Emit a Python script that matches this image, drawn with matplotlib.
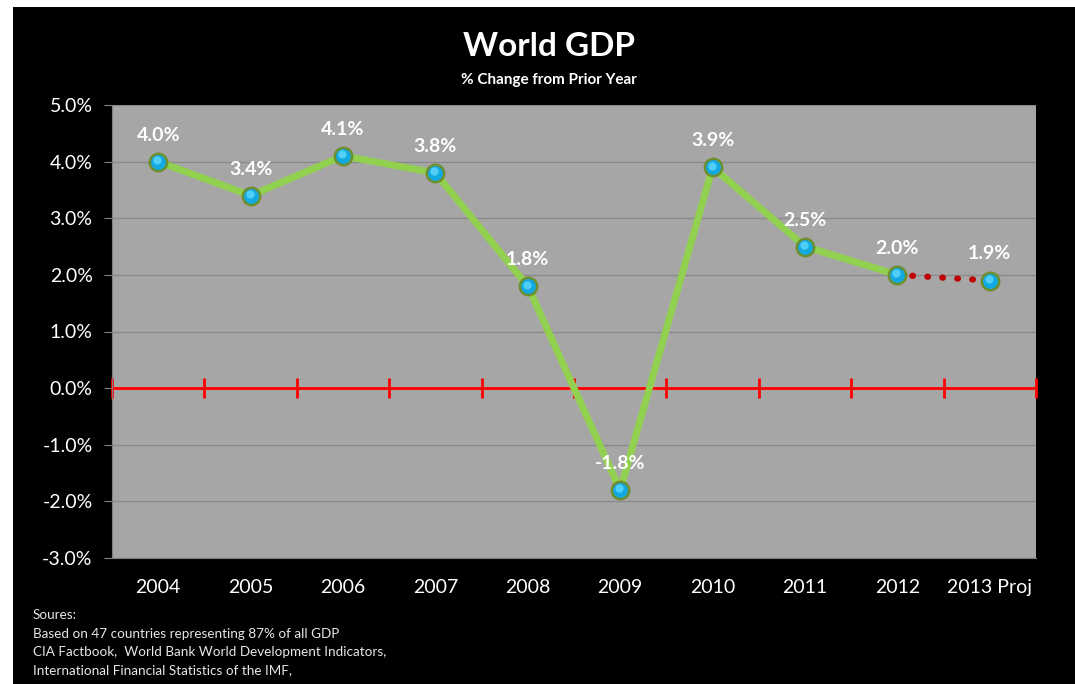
import matplotlib
matplotlib.use("Agg")
import matplotlib.pyplot as plt
from matplotlib.patches import Rectangle
from matplotlib.ticker import FuncFormatter, MultipleLocator

# -------------------------------------------------------
# DATA
# -------------------------------------------------------
years = ["2004", "2005", "2006", "2007", "2008", "2009", "2010", "2011", "2012", "2013 Proj"]
gdp_change = [4.0, 3.4, 4.1, 3.8, 1.8, -1.8, 3.9, 2.5, 2.0, 1.9]
labels = ["4.0%", "3.4%", "4.1%", "3.8%", "1.8%", "-1.8%", "3.9%", "2.5%", "2.0%", "1.9%"]
n_actual = 9  # last point is a projection

title = "World GDP"
subtitle = "% Change from Prior Year"
source_lines = [
    "Soures:",
    "Based on 47 countries representing 87% of all GDP",
    "CIA Factbook,  World Bank World Development Indicators,",
    "International Financial Statistics of the IMF,",
]

# -------------------------------------------------------
# STYLE
# -------------------------------------------------------
FONT = ["Lato", "DejaVu Sans"]
GREEN = "#92D050"
RED = "#FF0000"
DOT_RED = "#C00000"
PLOT_BG = "#A6A6A6"
GRID = "#8A8A8A"

plt.rcParams["font.family"] = FONT

fig = plt.figure(figsize=(10.75, 6.84), dpi=100, facecolor="white")
# black slide background (white strip at top/left like the screenshot)
fig.patches.append(Rectangle((13 / 1075, 0), 1 - 13 / 1075, 1 - 7 / 684,
                             transform=fig.transFigure, facecolor="black",
                             edgecolor="none", zorder=-10))

ax = fig.add_axes([112 / 1075, 1 - 558 / 684, (1036 - 112) / 1075, (558 - 105) / 684])
ax.set_facecolor(PLOT_BG)

x = list(range(len(years)))

# gridlines
ax.set_ylim(-3, 5)
ax.set_xlim(-0.5, len(years) - 0.5)
ax.yaxis.set_major_locator(MultipleLocator(1))
ax.yaxis.set_major_formatter(FuncFormatter(lambda v, p: f"{v:.1f}%"))
ax.grid(axis="y", color=GRID, linewidth=1, zorder=0)
ax.set_axisbelow(True)

# zero line with category boundary ticks
ax.axhline(0, color=RED, linewidth=2, zorder=1)
bounds = [i - 0.5 for i in range(len(years) + 1)]
ax.plot(bounds, [0] * len(bounds), linestyle="none", marker="|",
        markersize=15, markeredgewidth=2, color=RED, zorder=1, clip_on=False)

# actual series
ax.plot(x[:n_actual], gdp_change[:n_actual], color=GREEN, linewidth=5,
        solid_capstyle="round", solid_joinstyle="round", zorder=2)
# projection
ax.plot(x[n_actual - 1:], gdp_change[n_actual - 1:], color=DOT_RED, linewidth=4.5,
        linestyle=(0, (0.1, 2.3)), dash_capstyle="round", zorder=2)

# sphere-like markers
ax.plot(x, gdp_change, linestyle="none", marker="o", markersize=12.5,
        markerfacecolor="#12A8E0", markeredgecolor="#6E8F2E",
        markeredgewidth=1.8, zorder=3)
ax.plot([v - 0.01 for v in x], [g + 0.03 for g in gdp_change], linestyle="none",
        marker="o", markersize=6, markerfacecolor="#5FD8FF",
        markeredgecolor="none", alpha=0.8, zorder=4)

# data labels
for xi, yi, lab in zip(x, gdp_change, labels):
    ax.annotate(lab, (xi, yi), xytext=(0, 13), textcoords="offset points",
                ha="center", va="bottom", color="white", fontsize=14,
                fontweight="bold", zorder=5)

# axes styling
ax.set_xticks(x)
ax.set_xticklabels(years)
for s in ["top", "right"]:
    ax.spines[s].set_visible(False)
ax.spines["left"].set_color("#808080")
ax.spines["bottom"].set_color("#808080")
ax.tick_params(axis="y", colors="#808080", labelcolor="white", labelsize=14,
               length=6, pad=8)
ax.tick_params(axis="x", length=0, labelcolor="white", labelsize=14, pad=15)

# titles
fig.text(0.511, 1 - 47 / 684, title, ha="center", va="center", color="white",
         fontsize=24, fontweight="bold")
fig.text(0.511, 1 - 80 / 684, subtitle, ha="center", va="center", color="white",
         fontsize=11, fontweight="bold")

# sources
for i, line in enumerate(source_lines):
    fig.text(33 / 1075, 1 - (615 + i * 18.5) / 684, line, ha="left", va="center",
             color="#E6E6E6", fontsize=9.7)

fig.savefig("out.png", dpi=100, facecolor=fig.get_facecolor())
